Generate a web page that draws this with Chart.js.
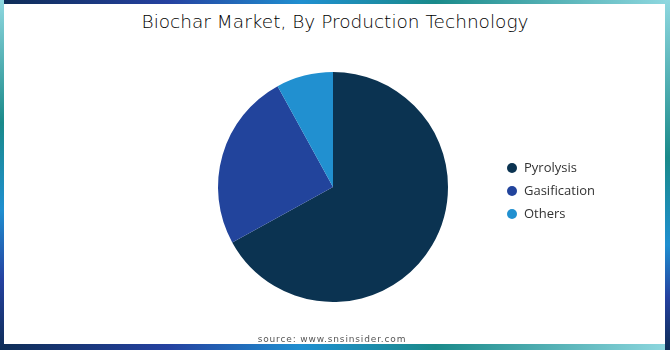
<!DOCTYPE html>
<html>
<head>
<meta charset="utf-8">
<script src="https://cdn.jsdelivr.net/npm/chart.js@4.4.0/dist/chart.umd.min.js"></script>
<style>
  html, body { margin: 0; padding: 0; }
  body { width: 670px; height: 350px; position: relative; overflow: hidden; background: #fff; }
  .edge { position: absolute; }
  #top { left: 0; top: 0; width: 670px; height: 4px; background: linear-gradient(to right, #0e2d56, #2541a0 25%, #1f8fd0 45%, #1a8a8a 65%, #8fd8e0); }
  #bottom { left: 0; bottom: 0; width: 670px; height: 6px; background: linear-gradient(to right, #0e2d56, #2541a0 25%, #1f8fd0 45%, #1a8a8a 65%, #8fd8e0); }
  #left { left: 0; top: 0; width: 4px; height: 350px; background: linear-gradient(to bottom, #8fd8e0, #1a8a8a 35%, #1f8fd0 60%, #2541a0 80%, #0e2d56); }
  #right { right: 0; top: 0; width: 5px; height: 350px; background: linear-gradient(to bottom, #8fd8e0, #1a8a8a 45%, #1f8fd0 70%, #2541a0 85%, #0e2d56); }
  #card { position: absolute; left: 4px; top: 4px; width: 661px; height: 340px; background: #fff; border-radius: 3px; }
  #title { position: absolute; left: 0; width: 670px; top: 11px; text-align: center; font-family: "DejaVu Sans", sans-serif; font-weight: 200; font-size: 18.5px; color: #000; }
  #source { position: absolute; left: 0; width: 664px; top: 334px; text-align: center; font-family: "DejaVu Sans", sans-serif; font-size: 9px; letter-spacing: 0.85px; color: #555; }
  #legend { position: absolute; left: 507px; top: 158px; font-family: "Open Sans", sans-serif; font-size: 13px; color: #333; }
  #legend div { height: 23px; line-height: 18px; }
  #legend span { display: inline-block; width: 10px; height: 10px; border-radius: 50%; margin-right: 7px; vertical-align: -1px; }
  #wrap { position: absolute; left: 0; top: 0; width: 670px; height: 350px; }
</style>
</head>
<body>
<div class="edge" id="top"></div>
<div class="edge" id="bottom"></div>
<div class="edge" id="left"></div>
<div class="edge" id="right"></div>
<div id="card"></div>
<div id="title">Biochar Market, By Production Technology</div>
<div id="wrap"><canvas id="myChart"></canvas></div>
<div id="legend"></div>
<div id="source">source: www.snsinsider.com</div>
<script>
// data (share in %)
var labels = ["Pyrolysis", "Gasification", "Others"];
var shares = [67, 25, 8];
var colors = ["#0b3351", "#22449c", "#2190d0"];

var ctx = document.getElementById("myChart").getContext("2d");
var myChart = new Chart(ctx, {
  type: "pie",
  data: {
    labels: labels,
    datasets: [
      {
        data: shares,
        backgroundColor: colors,
        borderWidth: 0,
      },
    ],
  },
  options: {
    responsive: true,
    maintainAspectRatio: false,
    animation: false,
    layout: {
      padding: { left: 218, right: 222, top: 72, bottom: 48 },
    },
    plugins: {
      legend: { display: false },
      tooltip: { enabled: false },
    },
  },
});

//legend built from the same arrays
var legend = document.getElementById("legend");
labels.forEach(function (name, i) {
  var row = document.createElement("div");
  var dot = document.createElement("span");
  dot.style.background = colors[i];
  row.appendChild(dot);
  row.appendChild(document.createTextNode(name));
  legend.appendChild(row);
});
</script>
</body>
</html>
